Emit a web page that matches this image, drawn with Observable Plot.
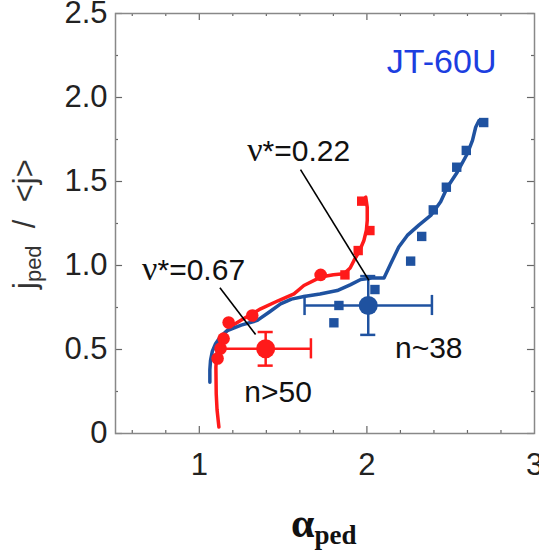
<!DOCTYPE html>
<html><head><meta charset="utf-8">
<script src="https://cdn.jsdelivr.net/npm/d3@7"></script>
<script src="https://cdn.jsdelivr.net/npm/@observablehq/plot@0.6"></script>
<style>body{margin:0;background:#fff}</style>
</head><body><div id="chart"></div>
<script>
const RED = "#ff1a1a", BLUE = "#1f52a0";
// scattered data
const redSqX = [1.969, 2.018, 1.948, 1.869];
const redSqY = [1.383, 1.208, 1.089, 0.944];
const redCircX = [1.724, 1.316, 1.175, 1.145, 1.127, 1.109];
const redCircY = [0.944, 0.702, 0.661, 0.565, 0.506, 0.446];
const blueSqX = [2.697, 2.593, 2.536, 2.474, 2.396, 2.327, 2.261, 2.048, 1.833, 1.803];
const blueSqY = [1.851, 1.685, 1.585, 1.466, 1.331, 1.173, 1.026, 0.857, 0.762, 0.659];
// fitted curves
const redCurveX = [1.117, 1.106, 1.101, 1.099, 1.104, 1.117, 1.135, 1.157, 1.200, 1.246, 1.366, 1.470, 1.565, 1.624, 1.724, 1.800, 1.863, 1.900, 1.923, 1.955, 1.982, 1.997, 2.002, 2.002, 1.993];
const redCurveY = [0.038, 0.140, 0.236, 0.395, 0.470, 0.534, 0.575, 0.603, 0.645, 0.673, 0.742, 0.790, 0.831, 0.881, 0.931, 0.945, 0.951, 0.985, 1.030, 1.085, 1.149, 1.210, 1.268, 1.347, 1.407];
const blueCurveX = [1.063, 1.063, 1.067, 1.078, 1.097, 1.125, 1.167, 1.250, 1.346, 1.420, 1.485, 1.550, 1.624, 1.720, 1.823, 1.900, 1.963, 2.030, 2.102, 2.142, 2.190, 2.241, 2.310, 2.381, 2.440, 2.480, 2.539, 2.599, 2.630, 2.649, 2.669];
const blueCurveY = [0.305, 0.380, 0.435, 0.490, 0.534, 0.575, 0.613, 0.645, 0.673, 0.725, 0.772, 0.800, 0.815, 0.830, 0.851, 0.885, 0.917, 0.925, 0.925, 1.010, 1.110, 1.179, 1.240, 1.298, 1.380, 1.466, 1.555, 1.665, 1.745, 1.823, 1.863];
// averaged points with error bars
const avgX = [1.396, 2.008];
const avgY = [0.504, 0.762];
const avgXErr = [0.27, 0.38];
const avgYErr = [0.10, 0.175];
const avgColor = [RED, BLUE];
// annotations
const labelText = ["ν*=0.22", "ν*=0.67", "n>50", "n~38"];
const labelX = [1.593, 0.966, 1.470, 2.369];
const labelY = [1.625, 0.911, 0.185, 0.452];
const pointerX1 = [1.604, 1.123], pointerY1 = [1.571, 0.867];
const pointerX2 = [2.012, 1.336], pointerY2 = [0.911, 0.589];
const xTickLabels = [1, 2, 3];
const yTickLabels = [0, 0.5, 1, 1.5, 2, 2.5];

const pts = (xs, ys) => xs.map((x, i) => ({x, y: ys[i]}));
const redSq = pts(redSqX, redSqY), redCirc = pts(redCircX, redCircY), blueSq = pts(blueSqX, blueSqY);
const redCurve = pts(redCurveX, redCurveY), blueCurve = pts(blueCurveX, blueCurveY);
const avg = avgX.map((x, i) => ({x, y: avgY[i], xe: avgXErr[i], ye: avgYErr[i], c: avgColor[i]}));
const hCaps = avg.flatMap(d => [d.x - d.xe, d.x + d.xe].map(x => ({x, y1: d.y - 0.06, y2: d.y + 0.06, c: d.c})));
const vCaps = avg.flatMap(d => [d.y - d.ye, d.y + d.ye].map(y => ({y, x1: d.x - 0.045, x2: d.x + 0.045, c: d.c})));
const labels = labelText.map((t, i) => ({t, x: labelX[i], y: labelY[i]}));
const pointers = pointerX1.map((x, i) => ({x1: x, y1: pointerY1[i], x2: pointerX2[i], y2: pointerY2[i]}));
const xt = d3.range(6, 30, 2).map(v => v / 10);
const yt = d3.range(0, 11).map(v => v * 0.25);
const isMajX = v => Math.abs(v - Math.round(v)) < 1e-6;
const isMajY = v => Math.abs(v * 2 - Math.round(v * 2)) < 1e-6;

const TICK = "#666";
const plot = Plot.plot({
  width: 539, height: 552,
  marginLeft: 115, marginRight: 5, marginTop: 13, marginBottom: 119,
  style: {fontFamily: "Liberation Sans, Arial, sans-serif", color: "#222", background: "#fff", overflow: "visible"},
  x: {domain: [0.5, 3]},
  y: {domain: [0, 2.5]},
  marks: [
    Plot.axisX({ticks: xTickLabels, tickSize: 0, tickPadding: 19, fontSize: 31, label: null, tickFormat: d => String(d)}),
    Plot.axisY({ticks: yTickLabels, tickSize: 0, tickPadding: 8, fontSize: 31, label: null,
      tickFormat: d => d === 0 ? "0" : d.toFixed(1)}),
    Plot.ruleX(xt, {x: d => d, y1: 0, y2: d => isMajX(d) ? 0.042 : 0.018, stroke: TICK, strokeWidth: 1.2}),
    Plot.ruleX(xt, {x: d => d, y1: 2.5, y2: d => 2.5 - (isMajX(d) ? 0.042 : 0.018), stroke: TICK, strokeWidth: 1.2}),
    Plot.ruleY(yt, {y: d => d, x1: 0.5, x2: d => 0.5 + (isMajY(d) ? 0.042 : 0.018), stroke: TICK, strokeWidth: 1.2}),
    Plot.ruleY(yt, {y: d => d, x1: 3, x2: d => 3 - (isMajY(d) ? 0.042 : 0.018), stroke: TICK, strokeWidth: 1.2}),
    Plot.frame({stroke: "#888", strokeWidth: 1.5}),
    Plot.line(redCurve, {x: "x", y: "y", stroke: RED, strokeWidth: 3.5, curve: "linear", strokeLinejoin: "round"}),
    Plot.line(blueCurve, {x: "x", y: "y", stroke: BLUE, strokeWidth: 3.5, curve: "linear", strokeLinejoin: "round"}),
    Plot.dot(blueSq, {x: "x", y: "y", symbol: "square", r: 5.3, fill: BLUE}),
    Plot.dot(redSq, {x: "x", y: "y", symbol: "square", r: 5.3, fill: RED}),
    Plot.dot(redCirc, {x: "x", y: "y", r: 6.3, fill: RED}),
    Plot.ruleY(avg, {y: "y", x1: d => d.x - d.xe, x2: d => d.x + d.xe, stroke: "c", strokeWidth: 2.5}),
    Plot.ruleX(avg, {x: "x", y1: d => d.y - d.ye, y2: d => d.y + d.ye, stroke: "c", strokeWidth: 2.5}),
    Plot.ruleX(hCaps, {x: "x", y1: "y1", y2: "y2", stroke: "c", strokeWidth: 2.5}),
    Plot.ruleY(vCaps, {y: "y", x1: "x1", x2: "x2", stroke: "c", strokeWidth: 2.5}),
    Plot.dot(avg, {x: "x", y: "y", r: 9.5, fill: "c"}),
    Plot.link(pointers, {x1: "x1", y1: "y1", x2: "x2", y2: "y2", stroke: "#000", strokeWidth: 1.6}),
    Plot.text(labels, {x: "x", y: "y", text: "t", fontSize: 30, fill: "#111", textAnchor: "middle", lineAnchor: "bottom"}),
    Plot.text(["JT-60U"], {x: [2.446], y: [2.143], text: d => d, fontSize: 34, fill: "#1c3ee0", textAnchor: "middle", lineAnchor: "bottom"})
  ]
});
document.getElementById("chart").appendChild(plot);

const svg = d3.select(plot);
// serif nu glyph
svg.selectAll("text").each(function() {
  const t = d3.select(this);
  const s = t.text();
  if (s.startsWith("ν")) {
    t.text(null);
    t.append("tspan").style("font-family", "Liberation Serif, Times New Roman, serif").style("font-size", "34px").text("ν");
    t.append("tspan").text(s.slice(1));
  }
});
// x axis label
const xl = svg.append("text").attr("x", 291).attr("y", 537).attr("text-anchor", "start")
  .style("font-family", "Liberation Serif, Times New Roman, serif").style("font-weight", "bold").attr("fill", "#111");
xl.append("tspan").style("font-size", "42px").text("α");
xl.append("tspan").attr("dy", 7).style("font-size", "27px").text("ped");
// y axis label
const yl = svg.append("text").attr("transform", "translate(35,289) rotate(-90)").attr("text-anchor", "start")
  .style("font-family", "Liberation Sans, Arial, sans-serif").style("font-size", "31px").attr("fill", "#333")
  .attr("xml:space", "preserve");
yl.append("tspan").text("j");
yl.append("tspan").attr("dy", 6).style("font-size", "22px").text("ped");
yl.append("tspan").attr("dy", -6).text("  /  <j>");
</script></body></html>
